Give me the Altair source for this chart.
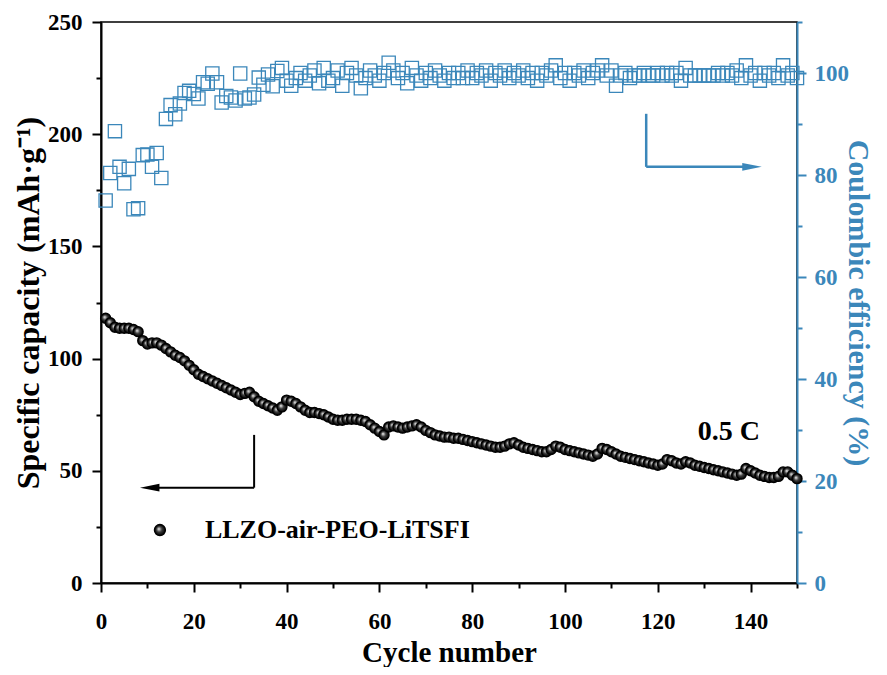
import altair as alt
import pandas as pd

cycles = list(range(1, 151))

capacity = [
    118, 116, 114, 113.5, 113.5, 113.5, 113, 112, 108, 106.5,
    107, 107, 106, 104.5, 103, 101.5, 100.5, 99, 97, 95,
    93, 92, 91, 90, 89, 88, 87, 86, 85, 84,
    84.5, 85, 83, 81, 80, 79, 78, 77, 78.5, 81.5,
    81, 80, 78.5, 77, 76, 76, 75.5, 75, 74, 73,
    72.5, 72.5, 73, 73, 73, 72.5, 72, 70.5, 69, 67.5,
    66, 69.5, 70, 69.5, 69, 69.5, 70, 70.5, 69.5, 68,
    67, 66, 65.5, 65, 65, 64.5, 64.5, 64, 63.5, 63,
    62.5, 62, 61.5, 61, 60.5, 60.5, 61, 62, 62.5, 61.5,
    60.5, 60, 59.5, 59, 58.5, 58.5, 59.5, 61, 60.5, 59.5,
    59, 58.5, 58, 57.5, 57, 56.5, 57.5, 60, 59.5, 58.5,
    57.5, 56.5, 56, 55.5, 55, 54.5, 54, 53.5, 53, 52.5,
    53, 55, 54.5, 53.5, 53, 54, 53.5, 52.5, 52, 51.5,
    51, 50.5, 50, 49.5, 49, 48.5, 48, 48.5, 51, 50,
    49, 48, 47.5, 47, 47, 47.5, 49.5, 49.5, 48, 46.5,
]

efficiency = [
    75, 80.4, 88.6, 81.6, 78.4, 81.2, 73.3, 73.5, 83.9, 84,
    81.6, 84.3, 79.4, 91, 93.7, 91.9, 94, 96.1, 96.5, 95.9,
    95, 98.2, 97.9, 99.9, 98.2, 94.2, 95.5, 95.2, 94.6, 99.9,
    95, 95.2, 95.8, 99.1, 97.7, 99.7, 97.4, 100.4, 101, 98.5,
    97.5, 99, 100, 98.5, 99.5, 100.5, 98, 101, 98.5, 99,
    100.5, 97.5, 100, 101, 99.5, 97, 99, 100.5, 99.5, 98.5,
    100, 102, 100.5, 99, 100, 98, 101, 99.5, 98.5, 100,
    99, 100.5, 99.5, 98.5, 100, 99, 100, 99, 100.5, 99,
    100, 99.5, 100.5, 98.5, 100, 99.5, 100.5, 99, 100, 99.5,
    100.5, 99, 100, 98.5, 100, 99.5, 100.5, 101.5, 99, 100,
    98.5, 100, 99.5, 100.5, 99, 100, 100.5, 101.5, 99.5, 100.5,
    97.5, 99.5, 100, 99, 99.5, 99.5, 100, 99.5, 99.5, 100,
    99.5, 100, 99.5, 100, 98.5, 101, 99.5, 99.5, 99.5, 99.5,
    99.5, 99.5, 100, 99.5, 100, 99.5, 100.5, 99, 101.5, 99.5,
    100, 98.5, 100, 99.5, 100, 99, 101.5, 99.5, 100, 99,
]

# annotation anchors (data units)
black_arrow_x = [33, 11.2]        # vertical line x, horizontal end x
black_arrow_y = [66, 42.5]        # top, bottom (capacity units)
black_head_x = [10.5]
blue_arrow_x = [117.5, 138.5]
blue_arrow_y = [92, 81.6]          # CE units
blue_head_x = [140.3]
legend_label = "LLZO-air-PEO-LiTSFI"
rate_label = "0.5 C"

BLUE = "#3b87ba"
FONT = "Liberation Serif"

df = pd.DataFrame({"cycle": cycles, "capacity": capacity, "ce": efficiency})

x_enc = alt.X(
    "x:Q",
    scale=alt.Scale(domain=[0, 150], nice=False, zero=False),
    axis=alt.Axis(
        title="Cycle number",
        values=list(range(0, 151, 10)),
        labelExpr="datum.value % 20 === 0 ? datum.label : ''",
        tickSize={"condition": {"test": "datum.value % 20 === 0", "value": 9}, "value": 5},
        labelFlush=False,
        labelOverlap=False,
        labelPadding=18,
        titlePadding=5,
        titleFontSize=29,
        grid=False,
    ),
)

cap_scale = alt.Scale(domain=[0, 250], nice=False, zero=False)
ce_scale = alt.Scale(domain=[0, 110], nice=False, zero=False)

cap_axis = alt.Axis(
    title="Specific capacity (mAh·g⁻¹)",
    values=list(range(0, 251, 25)),
    labelExpr="datum.value % 50 === 0 ? datum.label : ''",
    tickSize={"condition": {"test": "datum.value % 50 === 0", "value": 9}, "value": 5},
    labelOverlap=False,
    labelFlush=False,
    labelPadding=10,
    titlePadding=2,
    titleFontSize=32,
    grid=False,
)
ce_axis = alt.Axis(
    title="Coulombic efficiency (%)",
    orient="right",
    values=list(range(0, 111, 10)),
    labelExpr="datum.value % 20 === 0 ? datum.label : ''",
    tickSize={"condition": {"test": "datum.value % 20 === 0", "value": 9}, "value": 5},
    labelOverlap=False,
    labelFlush=False,
    labelPadding=8,
    titlePadding=-6,
    titleFontSize=30,
    grid=False,
    domainColor=BLUE,
    tickColor=BLUE,
    labelColor=BLUE,
    titleColor=BLUE,
)

def ycap(field="y"):
    return alt.Y(f"{field}:Q", scale=cap_scale, axis=cap_axis)

def yce(field="y"):
    return alt.Y(f"{field}:Q", scale=ce_scale, axis=ce_axis)

sphere = alt.RadialGradient(
    gradient="radial",
    x1=0.38, y1=0.38, r1=0.0,
    x2=0.5, y2=0.5, r2=0.5,
    stops=[
        alt.GradientStop(color="#ffffff", offset=0),
        alt.GradientStop(color="#b5b5b5", offset=0.18),
        alt.GradientStop(color="#3a3a3a", offset=0.5),
        alt.GradientStop(color="#000000", offset=1),
    ],
)

cap_df = pd.DataFrame({"x": df["cycle"], "y": df["capacity"]})
ce_df = pd.DataFrame({"x": df["cycle"], "y": df["ce"]})

cap_pts = alt.Chart(cap_df).mark_circle(
    fill=sphere, stroke="black", strokeWidth=1.4, size=100, opacity=1
).encode(x=x_enc, y=ycap())

LEFT_HEAD = "M -1 0 L 1 -0.4 L 1 0.4 Z"
RIGHT_HEAD = "M 1 0 L -1 -0.4 L -1 0.4 Z"

ba_v = alt.Chart(pd.DataFrame({"x": [black_arrow_x[0]], "y": [black_arrow_y[0]], "y2": [black_arrow_y[1]]})).mark_rule(
    color="black", strokeWidth=2
).encode(x=x_enc, y=ycap(), y2="y2:Q")
ba_h = alt.Chart(pd.DataFrame({"x": [black_arrow_x[0]], "x2": [black_arrow_x[1]], "y": [black_arrow_y[1]]})).mark_rule(
    color="black", strokeWidth=2
).encode(x=x_enc, x2="x2:Q", y=ycap())
ba_head = alt.Chart(pd.DataFrame({"x": black_head_x, "y": [black_arrow_y[1]]})).mark_point(
    shape=LEFT_HEAD, filled=True, color="black", size=380, opacity=1
).encode(x=x_enc, y=ycap())

legend_df = pd.DataFrame({"x": [12.7], "y": [23.6], "label": [legend_label]})
leg_pt = alt.Chart(legend_df).mark_circle(
    fill=sphere, stroke="black", strokeWidth=1.4, size=120, opacity=1
).encode(x=x_enc, y=ycap())
leg_txt = alt.Chart(legend_df.assign(x=[22.4])).mark_text(
    align="left", baseline="middle", font=FONT, fontWeight="bold", fontSize=26, color="black"
).encode(x=x_enc, y=ycap(), text="label:N")

rate_txt = alt.Chart(pd.DataFrame({"x": [128.6], "y": [67.3], "label": [rate_label]})).mark_text(
    align="left", baseline="middle", font=FONT, fontWeight="bold", fontSize=28, color="black"
).encode(x=x_enc, y=ycap(), text="label:N")

cap_layer = alt.layer(cap_pts, ba_v, ba_h, ba_head, leg_pt, leg_txt, rate_txt)

ce_pts = alt.Chart(ce_df).mark_point(
    shape="square", filled=False, color=BLUE, strokeWidth=1.3, size=175, opacity=1
).encode(x=x_enc, y=yce())
bl_v = alt.Chart(pd.DataFrame({"x": [blue_arrow_x[0]], "y": [blue_arrow_y[0]], "y2": [blue_arrow_y[1]]})).mark_rule(
    color=BLUE, strokeWidth=2.5
).encode(x=x_enc, y=yce(), y2="y2:Q")
bl_h = alt.Chart(pd.DataFrame({"x": [blue_arrow_x[0]], "x2": [blue_arrow_x[1]], "y": [blue_arrow_y[1]]})).mark_rule(
    color=BLUE, strokeWidth=2.5
).encode(x=x_enc, x2="x2:Q", y=yce())
bl_head = alt.Chart(pd.DataFrame({"x": blue_head_x, "y": [blue_arrow_y[1]]})).mark_point(
    shape=RIGHT_HEAD, filled=True, color=BLUE, size=380, opacity=1
).encode(x=x_enc, y=yce())

ce_layer = alt.layer(ce_pts, bl_v, bl_h, bl_head)

chart = (
    alt.layer(cap_layer, ce_layer)
    .resolve_scale(y="independent")
    .properties(
        width=696,
        height=561,
        autosize="none",
        padding={"left": 93, "top": 14, "right": 82, "bottom": 84},
        background="white",
    )
    .configure_view(stroke="black", strokeWidth=1.5)
    .configure_axis(
        labelFont=FONT,
        labelFontWeight="bold",
        labelFontSize=23,
        labelColor="black",
        titleFont=FONT,
        titleFontWeight="bold",
        titleFontSize=28,
        titleColor="black",
        domainColor="black",
        domainWidth=2,
        tickColor="black",
        tickWidth=2,
    )
)

chart.save("out.html", embed_options={"renderer": "svg", "actions": False})
